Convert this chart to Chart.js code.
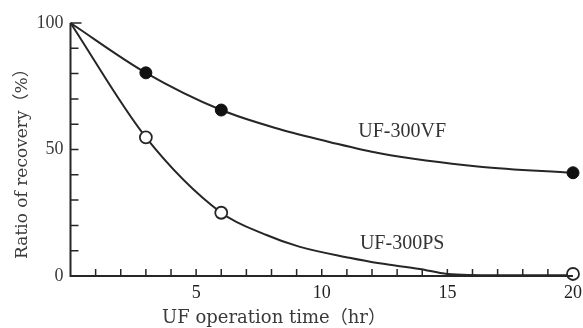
<!DOCTYPE html>
<html><head><meta charset="utf-8">
<script src="https://cdn.jsdelivr.net/npm/chart.js@4/dist/chart.umd.min.js"></script>
<style>html,body{margin:0;padding:0;background:#fff}#wrap{width:583px;height:328px}</style>
</head><body><div id="wrap"><canvas id="c" width="583" height="328"></canvas></div>
<script>
// measured markers
const vfPointsX = [3, 6, 20];
const vfPointsY = [80.3, 65.6, 40.8];
const psPointsX = [3, 6, 20];
const psPointsY = [54.8, 25, 0.8];
// smooth fitted curves
const vfCurveX = [0, 3, 6, 8.3, 10.3, 12.3, 16.3, 20];
const vfCurveY = [100, 80.3, 65.6, 58.1, 53, 48.5, 43.2, 40.8];
const psCurveX = [0, 3, 6, 7.8, 9.1, 11.1, 12.3, 13.9, 15, 17, 20];
const psCurveY = [100, 54.8, 25, 16.2, 11.6, 7.2, 5, 2.8, 0.8, 0.3, 0.3];
const xTickLabels = ['5', '10', '15', '20'];
const yTickLabels = ['0', '50', '100'];
const seriesLabels = ['UF-300VF', 'UF-300PS'];
const labelPos = [[13.2, 56.9], [13.2, 12.9]];
const xTitle = 'UF operation time（hr）';
const yTitle = 'Ratio of recovery（%）';

const ink = '#262626';
const serif = "'Liberation Serif', serif";
const serif2 = "'DejaVu Serif', 'Noto Sans CJK JP', serif";
const zip = (xs, ys) => xs.map((x, i) => ({x, y: ys[i]}));

const decor = {
  id: 'decor',
  afterDatasetsDraw(chart) {
    const {ctx, chartArea: ca, scales: {x, y}} = chart;
    ctx.save();
    ctx.strokeStyle = ink;
    ctx.lineWidth = 2;
    ctx.beginPath();
    ctx.moveTo(x.left, y.getPixelForValue(100));
    ctx.lineTo(x.left, y.getPixelForValue(0));
    ctx.lineTo(x.right, y.getPixelForValue(0));
    ctx.stroke();
    ctx.lineWidth = 1.5;
    ctx.beginPath();
    for (let v = 1; v <= 19; v++) {
      const px = x.getPixelForValue(v);
      const py = y.getPixelForValue(0);
      ctx.moveTo(px, py);
      ctx.lineTo(px, py - 7);
    }
    for (let v = 10; v <= 100; v += 10) {
      const py = y.getPixelForValue(v);
      ctx.moveTo(x.left, py);
      ctx.lineTo(x.left + (v === 100 ? 11 : 8), py);
    }
    ctx.stroke();
    ctx.fillStyle = '#333';
    ctx.textAlign = 'center';
    ctx.textBaseline = 'middle';
    ctx.font = "20px " + serif;
    seriesLabels.forEach((t, i) => {
      ctx.fillText(t, x.getPixelForValue(labelPos[i][0]), y.getPixelForValue(labelPos[i][1]));
    });
    // axis titles
    ctx.fillStyle = '#3a3a3a';
    ctx.font = "18px " + serif2;
    ctx.fillText(xTitle, ca.left + 0.405 * (ca.right - ca.left), chart.height - 10);
    ctx.font = "17px " + serif2;
    ctx.translate(23, ca.top + 0.54 * (ca.bottom - ca.top));
    ctx.rotate(-Math.PI / 2);
    ctx.fillText(yTitle, 0, 0);
    ctx.restore();
  }
};

new Chart(document.getElementById('c'), {
  type: 'scatter',
  data: {
    datasets: [
      {type: 'line', data: zip(vfCurveX, vfCurveY), borderColor: ink, borderWidth: 2, pointRadius: 0, cubicInterpolationMode: 'monotone', fill: false, order: 2, clip: false},
      {type: 'line', data: zip(psCurveX, psCurveY), borderColor: ink, borderWidth: 2, pointRadius: 0, cubicInterpolationMode: 'monotone', fill: false, order: 2, clip: false},
      {data: zip(vfPointsX, vfPointsY), pointRadius: 6, pointBackgroundColor: '#111', pointBorderColor: '#111', pointBorderWidth: 1, order: 1, clip: false},
      {data: zip(psPointsX, psPointsY), pointRadius: 6, pointBackgroundColor: '#fff', pointBorderColor: ink, pointBorderWidth: 1.8, order: 1, clip: false}
    ]
  },
  options: {
    responsive: false,
    animation: false,
    layout: {padding: {top: 23, right: 10, left: 0, bottom: 0}},
    plugins: {legend: {display: false}, tooltip: {enabled: false}},
    scales: {
      x: {
        type: 'linear', min: 0, max: 20,
        border: {display: false},
        grid: {display: false, drawTicks: false},
        afterFit: s => { s.height = 52; s.paddingRight = 0; s.paddingLeft = 0; },
        afterBuildTicks: s => { s.ticks = xTickLabels.map(v => ({value: Number(v)})); },
        ticks: {color: '#222', font: {family: serif, size: 18}, padding: 6, maxRotation: 0, callback: v => String(v)}
      },
      y: {
        type: 'linear', min: 0, max: 100,
        border: {display: false},
        grid: {display: false, drawTicks: false},
        afterFit: s => { s.width = 70.5; s.paddingTop = 0; s.paddingBottom = 0; },
        afterBuildTicks: s => { s.ticks = yTickLabels.map(v => ({value: Number(v)})); },
        ticks: {color: '#3a3a3a', font: {family: serif, size: 18}, padding: 7, callback: v => String(v)}
      }
    }
  },
  plugins: [decor]
});
</script></body></html>
